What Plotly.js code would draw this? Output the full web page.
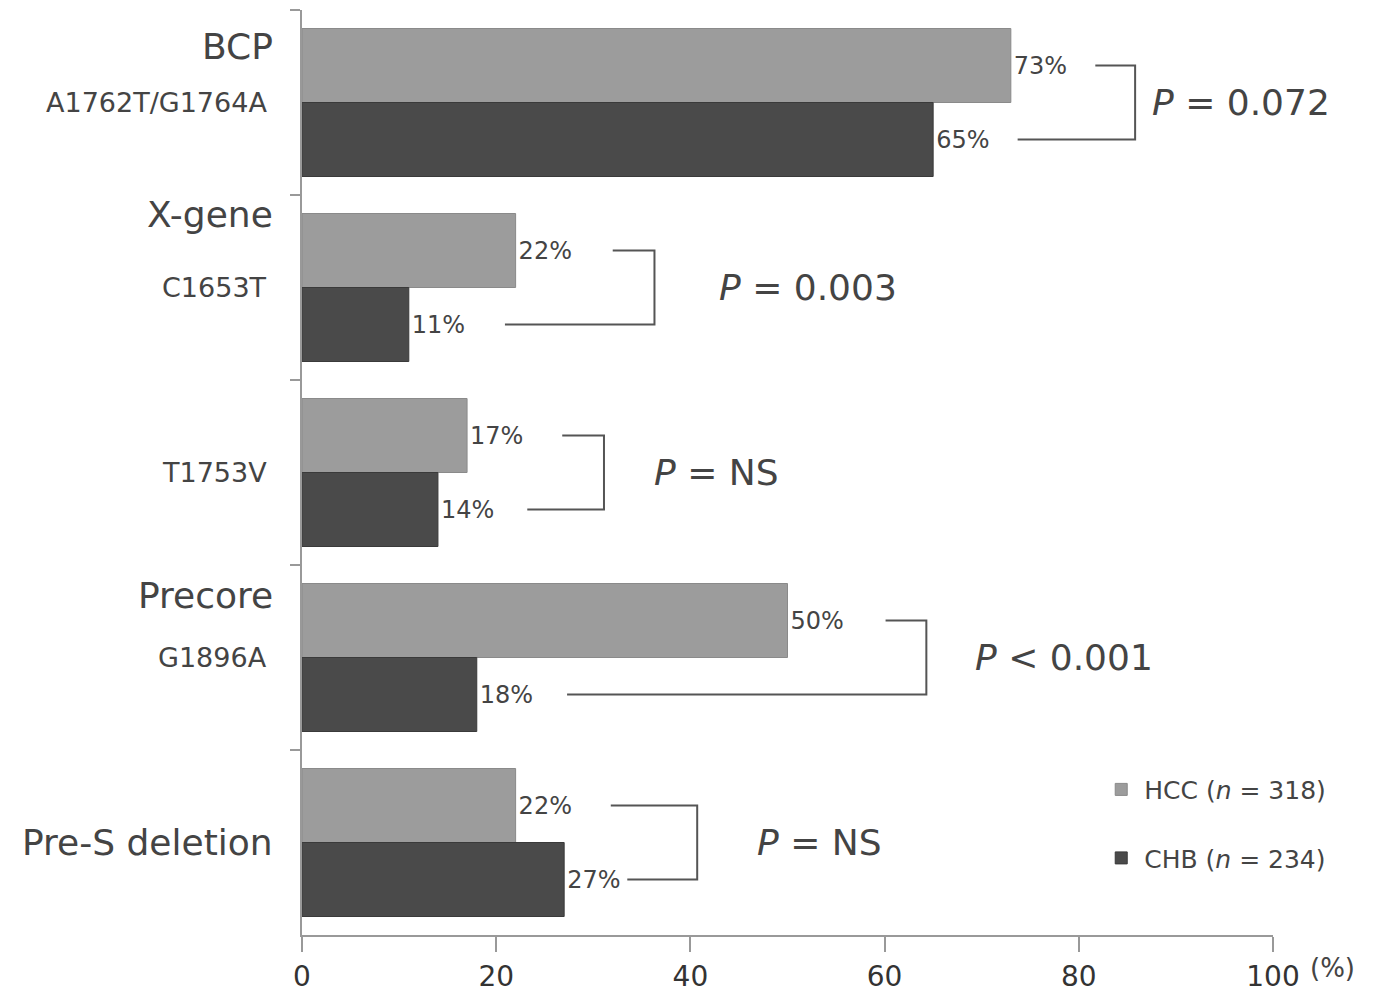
<!DOCTYPE html>
<html>
<head>
<meta charset="utf-8">
<script src="https://cdn.plot.ly/plotly-3.0.1.min.js"></script>
<style>html,body{margin:0;padding:0;background:#fff;}#chart{width:1376px;height:994px;}</style>
</head>
<body>
<div id="chart"></div>
<script>
// ---- data ----
const categories = ['BCP', 'X-gene', 'T1753V', 'Precore', 'Pre-S deletion'];
const mainLabels = ['BCP', 'X-gene', '', 'Precore', 'Pre-S deletion'];
const subLabels = ['A1762T/G1764A', 'C1653T', 'T1753V', 'G1896A', ''];
const hccValues = [73, 22, 17, 50, 22];
const chbValues = [65, 11, 14, 18, 27];
const pLabels = ['<i>P</i> = 0.072', '<i>P</i> = 0.003', '<i>P</i> = NS', '<i>P</i> &lt; 0.001', '<i>P</i> = NS'];
const seriesNames = ['HCC (<i>n</i> = 318)', 'CHB (<i>n</i> = 234)'];
const xTicks = [0, 20, 40, 60, 80, 100];

// ---- layout helpers (positions) ----
// bracket: [topLineStart, bottomLineStart, verticalX, pTextX]
const brackets = [
  [81.7, 73.7, 85.8, 87.3],
  [32.0, 20.9, 36.3, 42.7],
  [26.8, 23.2, 31.1, 36.0],
  [60.1, 27.3, 64.3, 69.1],
  [31.8, 33.5, 40.7, 46.7]
];
const mainShift = [56, 73, 0, 62, 0];

const FONT = 'DejaVu Sans, sans-serif';
const TXT = '#444';

const traces = [
  {
    type: 'bar', orientation: 'h', name: seriesNames[0],
    y: categories, x: hccValues,
    marker: {color: '#9c9c9c', line: {color: '#8a8a8a', width: 1}},
    text: hccValues.map(v => v + '%'), textposition: 'outside',
    textfont: {family: FONT, size: 24, color: TXT},
    cliponaxis: false, legendgroup: 'a', hoverinfo: 'x+y'
  },
  {
    type: 'bar', orientation: 'h', name: seriesNames[1],
    y: categories, x: chbValues,
    marker: {color: '#4a4a4a', line: {color: '#3a3a3a', width: 1}},
    text: chbValues.map(v => v + '%'), textposition: 'outside',
    textfont: {family: FONT, size: 24, color: TXT},
    cliponaxis: false, legendgroup: 'b', hoverinfo: 'x+y'
  }
];

const shapes = [];
const annotations = [];
categories.forEach((c, i) => {
  const b = brackets[i];
  const yt = i - 0.2, yb = i + 0.2;
  shapes.push({type: 'path', xref: 'x', yref: 'y',
    path: `M ${b[0]} ${yt} L ${b[2]} ${yt} L ${b[2]} ${yb} L ${b[1]} ${yb}`,
    line: {color: '#555', width: 2}});
  annotations.push({xref: 'x', yref: 'y', x: b[3], y: i, text: pLabels[i],
    showarrow: false, xanchor: 'left', yanchor: 'middle',
    font: {family: FONT, size: 36, color: TXT}});
  if (subLabels[i]) {
    annotations.push({xref: 'paper', yref: 'y', x: -0.034, y: i, text: subLabels[i],
      showarrow: false, xanchor: 'right', yanchor: 'middle',
      font: {family: FONT, size: 27, color: TXT}});
  }
  if (mainLabels[i]) {
    annotations.push({xref: 'paper', yref: 'y', x: -0.028, y: i, yshift: mainShift[i], text: mainLabels[i],
      showarrow: false, xanchor: 'right', yanchor: 'middle',
      font: {family: FONT, size: 36, color: TXT}});
  }
});
annotations.push({xref: 'paper', yref: 'paper', x: 1.036, y: -0.036, text: '(%)',
  showarrow: false, xanchor: 'left', yanchor: 'middle',
  font: {family: FONT, size: 26, color: TXT}});

const layout = {
  width: 1376, height: 994,
  margin: {l: 302, r: 103, t: 10, b: 59},
  paper_bgcolor: '#fff', plot_bgcolor: '#fff',
  barmode: 'group', bargap: 0.2, bargroupgap: 0,
  showlegend: true,
  legend: {x: 0.82, y: 0.182, xanchor: 'left', yanchor: 'top',
    font: {family: FONT, size: 25, color: TXT},
    itemwidth: 36,
    traceorder: 'grouped', tracegroupgap: 33, bgcolor: 'rgba(0,0,0,0)'},
  xaxis: {range: [0, 100], tickvals: xTicks, ticktext: xTicks.map(String),
    ticks: 'outside', ticklen: 15, tickwidth: 2, tickcolor: '#999',
    showline: true, linecolor: '#999', linewidth: 2,
    showgrid: false, zeroline: false,
    tickfont: {family: FONT, size: 28, color: '#333'}},
  yaxis: {type: 'category', range: [4.5, -0.5], showticklabels: false,
    tickson: 'boundaries', ticks: 'outside', ticklen: 10, tickwidth: 2, tickcolor: '#999',
    showline: true, linecolor: '#999', linewidth: 2, showgrid: false, zeroline: false},
  shapes: shapes,
  annotations: annotations
};

Plotly.newPlot('chart', traces, layout, {displayModeBar: false, staticPlot: true});
</script>
</body>
</html>
